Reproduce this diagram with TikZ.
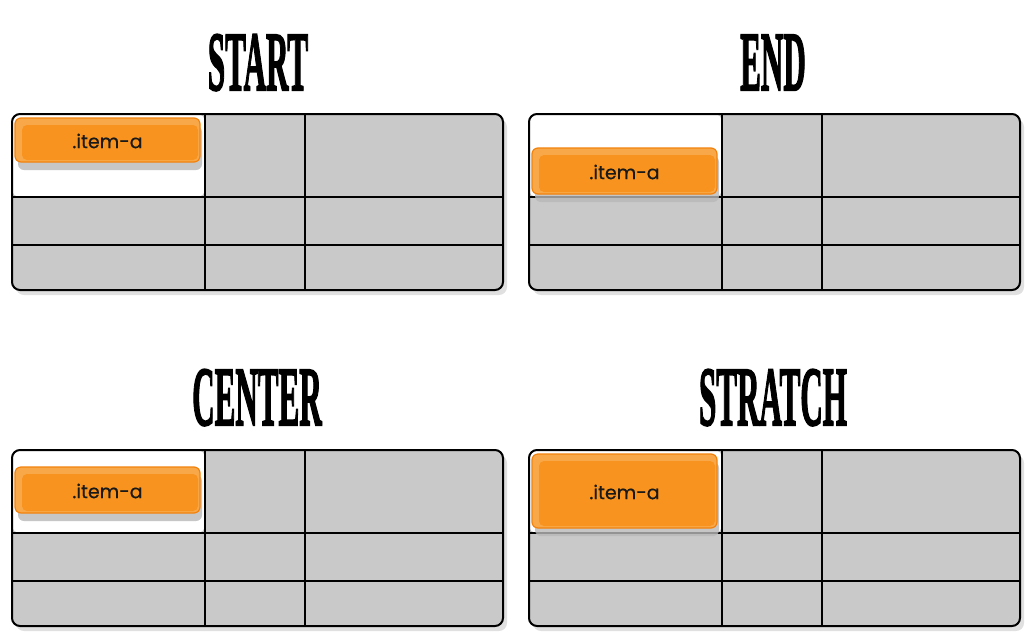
\documentclass[tikz,border=0pt]{standalone}
\usepackage{fontspec}
\setmainfont{Liberation Serif}
\newfontfamily\itemfont{Poppins}[FakeBold=0.5]
\newfontfamily\titlefont{Liberation Serif}[BoldFeatures={FakeBold=2.5}]
\definecolor{cellgray}{HTML}{C9C9C9}
\definecolor{orfill}{HTML}{F7931E}
\definecolor{orlight}{HTML}{F9A849}
\definecolor{orline}{HTML}{F2820C}
\definecolor{shadowgray}{HTML}{B8B8B8}
\tikzset{
  gridline/.style={line width=2pt, black},
  title/.style={anchor=base, inner sep=0pt, font=\titlefont\bfseries\fontsize{84}{84}\selectfont, xscale=0.37},
  itemtext/.style={font=\itemfont\fontsize{19}{19}\selectfont, text=black!90, inner sep=0pt},
  pics/gridbox/.style={code={
    \fill[black!12, rounded corners=8pt] (4,5) rectangle (495,181);
    \fill[cellgray, rounded corners=8pt] (0,0) rectangle (491,176);
    \fill[white, rounded corners=8pt] (0,0) -- (193,0) -- (193,83) -- (0,83) -- cycle;
    \draw[gridline] (193,0) -- (193,176);
    \draw[gridline] (293,0) -- (293,176);
    \draw[gridline] (0,83) -- (491,83);
    \draw[gridline] (0,131) -- (491,131);
    \draw[gridline, rounded corners=8pt] (0,0) rectangle (491,176);
  }}
}
\newcommand{\itembox}[5]{% name, x1, y1, x2, y2
  \fill[shadowgray, opacity=0.8, rounded corners=6pt] (#2+3,#3+8) rectangle (#4+2,#5+8);
  \draw[orline, line width=1.2pt, fill=orlight, rounded corners=6pt] (#2,#3) rectangle (#4,#5);
  \fill[orfill, rounded corners=5pt] (#2+7,#3+7) rectangle (#4-2,#5-2);
  \node[itemtext] (#1) at ({(#2+#4)/2},{(#3+#5)/2+1}) {.item-a};
}
\begin{document}
\begin{tikzpicture}[x=1pt, y=-1pt]
\useasboundingbox (0,0) rectangle (1031,638);
% titles
\node[title] (t1) at (258,90) {START};
\node[title] (t2) at (773,90) {END};
\node[title] (t3) at (257,425) {CENTER};
\node[title] (t4) at (773,425) {STRATCH};
% grids
\pic at (12,114) {gridbox};
\pic at (529,114) {gridbox};
\pic at (12,450) {gridbox};
\pic at (529,450) {gridbox};
% items
\itembox{i1}{15}{118}{200}{162}
\itembox{i2}{532}{148}{717}{194}
\itembox{i3}{15}{467}{200}{513}
\itembox{i4}{532}{454}{717}{528}
\end{tikzpicture}
\end{document}
